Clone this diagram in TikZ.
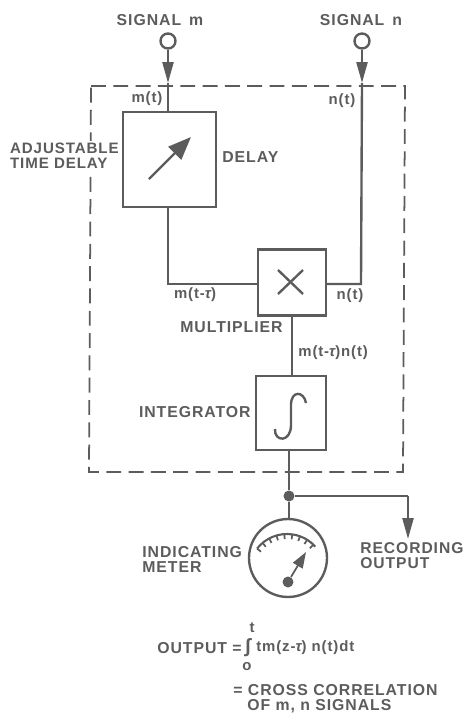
\documentclass[tikz,border=0pt]{standalone}
\usepackage{fontspec}
\setmainfont[LetterSpace=6]{Liberation Sans}
\usetikzlibrary{arrows.meta,positioning,calc}
\definecolor{inkgray}{gray}{0.36}
\tikzset{
	lbl/.style={text=inkgray,font=\fontsize{9}{8.6}\selectfont\bfseries,inner sep=0pt,align=left},
	sublbl/.style={lbl,font=\fontsize{8.5}{8}\selectfont\bfseries},
	blockbox/.style={draw=inkgray,rectangle,line width=1.35pt,minimum width=#1,inner sep=0pt},
	terminal/.style={draw=inkgray,circle,line width=1.35pt,minimum size=0.3cm,inner sep=0pt},
	wire/.style={draw=inkgray,line width=1.35pt},
	arrowwire/.style={wire,-{Triangle[length=0.42cm,width=0.22cm]}},
	dot/.style={fill=inkgray,circle,minimum size=0.22cm,inner sep=0pt}
}
\begin{document}
\begin{tikzpicture}[x=0.02cm,y=-0.02cm]
			\useasboundingbox (0,0) rectangle (464,714);

			% dashed frame
			\draw[draw=inkgray,line width=1pt,dash pattern=on 8.5pt off 4.2pt] (91,86) -- (405,86) -- (403,472) -- (89,472) -- cycle;
			\node[lbl,font=\fontsize{8.6}{8.6}\selectfont\bfseries,anchor=west,fill=white,inner sep=1pt] (ladj) at (8,155.5) {ADJUSTABLE\\TIME DELAY};

			\node[terminal] (sigm) at (168,41) {};
			\node[terminal] (sign) at (362,41) {};
			\node[blockbox=1.86cm,minimum height=1.9cm] (delay) at (169.5,159.5) {};
			\node[blockbox=1.36cm,minimum height=1.32cm] (mult) at (292,282.5) {};
			\node[blockbox=1.4cm,minimum height=1.48cm] (integ) at (291,413) {};
			\node[blockbox=0cm,circle,minimum size=1.56cm] (meter) at (288,558) {};
			\node[dot] (junc) at (289,496) {};
			\node[dot] (pivot) at (288,582) {};

			\coordinate (hdm) at (168,83);
			\coordinate (hdn) at (362,83);
			\coordinate (bendm) at (168,284);
			\coordinate (bendn) at (361,284);
			\coordinate (bendr) at (408,496);
			\coordinate (rec) at (408,539);
			\coordinate (needle) at (306,552);
			\coordinate (arcc) at (287,572);

			% inputs
			\draw[arrowwire] (sigm) -- (hdm);
			\draw[wire] (hdm) -- (sigm |- delay.north);
			\draw[arrowwire] (sign) -- (hdn);
			\draw[wire] (hdn) -- (bendn) -- (mult.east |- bendn);
			\draw[wire] (delay.south -| bendm) -- (bendm) -- (mult.west |- bendm);
			\draw[wire] (mult.south) -- (mult.south |- integ.north);
			\draw[wire] (integ.south -| junc) -- (junc) -- (meter.north -| junc);
			\draw[wire] (junc) -- (bendr);
			\draw[arrowwire] (bendr) -- (rec);

			% block symbols
			\draw[wire,-{Triangle[length=0.46cm,width=0.36cm]}] (149,179) -- (191,137);
			\draw[wire] (278,270) -- (303,294);
			\draw[wire] (303,270) -- (278,294);
			\draw[wire] (306,403) .. controls (304,391) and (291,390) .. (291,405) -- (291,425) .. controls (291,443) and (274,442) .. (275,429);

			% meter
			\draw[wire,line width=1.2pt] ($(arcc)+(-142:38)$) arc[start angle=-142,end angle=-42,radius=38];
			\foreach \a in {-142,-130,-118,-106,-94,-82,-70,-58,-46}
				\draw[wire,line width=1pt] ($(arcc)+(\a:38)$) -- ($(arcc)+(\a:33)$);
			\draw[wire,line width=1pt,-{Triangle[length=0.32cm,width=0.22cm]}] (pivot) -- (needle);

			% labels
			\node[lbl] (lsigm) at (160,20) {SIGNAL\, m};
			\node[lbl] (lsign) at (361,20) {SIGNAL\, n};
			\node[sublbl] (lmt) at (147,99) {m(t)};
			\node[sublbl] (lnt) at (342,101) {n(t)};
			\node[lbl,anchor=west] (ldelay) at (222,157) {DELAY};
			\node[sublbl] (lmtau) at (195,295) {m(t-{\itshape τ})};
			\node[sublbl] (lnt2) at (350,296) {n(t)};
			\node[lbl] (lmult) at (231.5,327) {MULTIPLIER};
			\node[sublbl,anchor=west] (lprod) at (298,353) {m(t-{\itshape τ})n(t)};
			\node[lbl,anchor=east] (linteg) at (251,412) {INTEGRATOR};
			\node[lbl,anchor=west] (lmeter) at (142,559.5) {INDICATING\\METER};
			\node[lbl,font=\fontsize{8.9}{8.6}\selectfont\bfseries,anchor=west] (lrec) at (360,555.5) {RECORDING\\[-0.4pt]OUTPUT};
			\node[lbl,anchor=west] (lout) at (157,648) {OUTPUT =};
			\node[sublbl] (lup) at (252,628) {t};
			\node[lbl,font=\fontsize{11}{12}\selectfont\bfseries] (lint) at (248,648) {∫};
			\node[sublbl] (llow) at (247,667) {o};
			\node[sublbl,anchor=west] (lexpr) at (256,648) {tm(z-{\itshape τ}) n(t)dt};
			\node[lbl,anchor=west] (lcross) at (233,698.5) {= CROSS CORRELATION\\\hspace{0.28cm}OF m, n SIGNALS};
		\end{tikzpicture}
\end{document}
